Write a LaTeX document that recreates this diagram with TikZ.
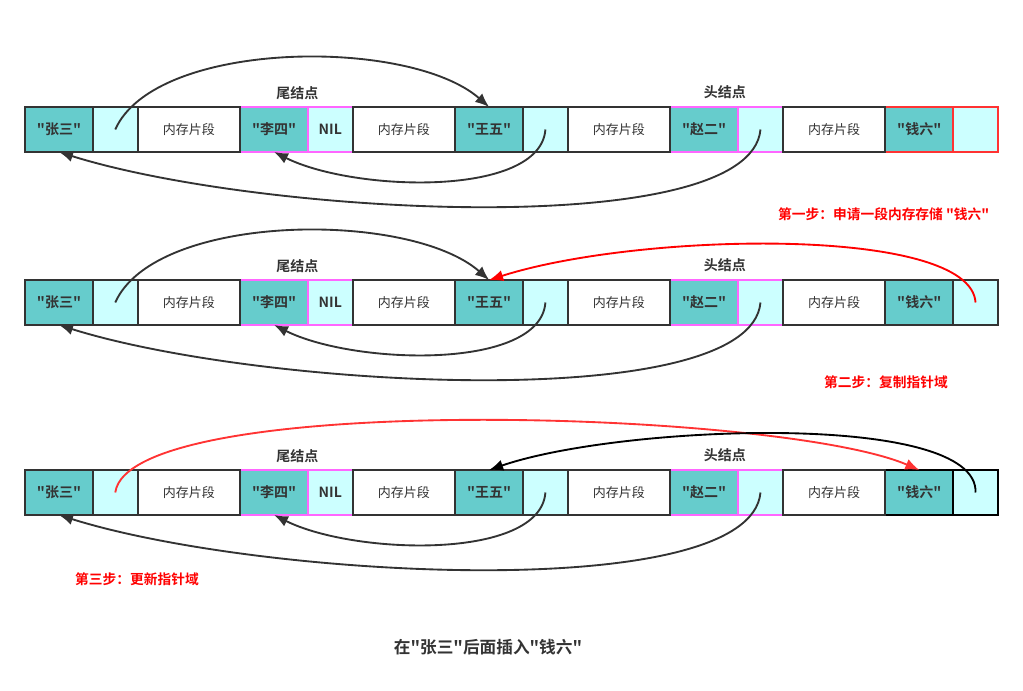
\documentclass[tikz,border=0pt]{standalone}
\usepackage{fontspec}
\setmainfont{Noto Sans CJK SC}[BoldFont=* Bold, Ligatures=TeXOff]
\usetikzlibrary{positioning,arrows.meta}
\definecolor{cellteal}{HTML}{66CCCC}
\definecolor{cellcyan}{HTML}{CCFFFF}
\definecolor{cellpink}{HTML}{FF66FF}
\definecolor{celldark}{HTML}{333333}
\definecolor{linkred}{HTML}{FF3333}
\tikzset{
    cell/.style={rectangle, draw=celldark, line width=1.5pt, inner sep=0pt, outer sep=0pt,
                 minimum height=33.75pt, text=celldark},
    data/.style={cell, fill=cellteal, minimum width=51pt, font=\bfseries\fontsize{10.5}{12}\selectfont},
    ptr/.style={cell, fill=cellcyan, minimum width=33.4pt, font=\bfseries\fontsize{10.5}{12}\selectfont},
    mem/.style={cell, fill=white, minimum width=76.9pt, font=\fontsize{9.75}{11}\selectfont},
    pinkline/.style={draw=cellpink},
    tag/.style={font=\bfseries\fontsize{10.5}{12}\selectfont, text=celldark},
    note/.style={font=\bfseries\fontsize{10.3}{12}\selectfont, text=red},
    link/.style={draw=celldark, line width=1.4pt, -{Latex[length=10.5pt,width=8.5pt]}},
}
\begin{document}
\begin{tikzpicture}[x=0.75pt, y=-0.75pt]
    \useasboundingbox (0,0) rectangle (1023,691);
    % Rows of cells
    \foreach \row/\y/\qc in {a/129.5/linkred, b/302.5/celldark, c/492.5/black}{
        \node [data] (\row-zs) at (59,\y) {"张三"};
        \node [ptr, right=0pt of \row-zs] (\row-p1) {};
        \node [mem, right=0pt of \row-p1] (\row-m1) {内存片段};
        \node [data, pinkline, right=0pt of \row-m1] (\row-ls) {"李四"};
        \node [ptr, pinkline, right=0pt of \row-ls] (\row-nil) {NIL};
        \node [mem, right=0pt of \row-nil] (\row-m2) {内存片段};
        \node [data, right=0pt of \row-m2] (\row-ww) {"王五"};
        \node [ptr, right=0pt of \row-ww] (\row-p2) {};
        \node [mem, right=0pt of \row-p2] (\row-m3) {内存片段};
        \node [data, pinkline, right=0pt of \row-m3] (\row-ze) {"赵二"};
        \node [ptr, pinkline, right=0pt of \row-ze] (\row-p3) {};
        \node [mem, right=0pt of \row-p3] (\row-m4) {内存片段};
        \node [data, draw=\qc, right=0pt of \row-m4] (\row-ql) {"钱六"};
        \node [ptr, draw=\qc, right=0pt of \row-ql] (\row-p4) {};
        % dark edges of the memory blocks on top
        \draw [celldark, line width=1.5pt] (\row-m1.north west) rectangle (\row-m1.south east);
        \draw [celldark, line width=1.5pt] (\row-m2.north west) rectangle (\row-m2.south east);
        \draw [celldark, line width=1.5pt] (\row-m3.north west) rectangle (\row-m3.south east);
        \draw [celldark, line width=1.5pt] (\row-m4.north west) rectangle (\row-m4.south east);
        % Labels
        \node [tag, above=2pt of \row-ls.north east, xshift=-8pt] (\row-tail) {尾结点};
        \node [tag, above=3pt of \row-ze.north east, xshift=-10pt] (\row-head) {头结点};
        % Links back
        \draw [link] (\row-p2.center) .. controls +(-5,68) and +(80,40) .. (\row-ls.south);
        \draw [link] (\row-p3.center) .. controls +(-10,113) and +(200,63) .. (\row-zs.south);
    }

    % Links forward
    \draw [link] (a-p1.center) .. controls +(40,-90) and +(-80,-70) .. (a-ww.north);
    \draw [link] (b-p1.center) .. controls +(40,-90) and +(-80,-70) .. (b-ww.north);
    \draw [link, draw=red, -{Latex[length=10.5pt,width=8.5pt,color=red]}]
        (b-p4.center) .. controls +(-5,-77) and +(150,-48) .. (b-ww.north);
    \draw [link, draw=linkred, -{Latex[length=10.5pt,width=8.5pt,color=linkred]}]
        (c-p1.center) .. controls +(14,-102) and +(-139,-60) .. (c-ql.north);
    \draw [link, draw=black, -{Latex[length=10.5pt,width=8.5pt,color=black]}]
        (c-p4.center) .. controls +(3,-82) and +(130,-45) .. (c-ww.north);

    % Steps
    \node [note, anchor=east] (step1) at (994,214) {第一步：申请一段内存存储 "钱六"};
    \node [note] (step2) at (886,382) {第二步：复制指针域};
    \node [note] (step3) at (137,579) {第三步：更新指针域};
    \node [font=\bfseries\fontsize{12.5}{14}\selectfont, text=celldark] (title) at (488,647) {在"张三"后面插入"钱六"};
\end{tikzpicture}
\end{document}
